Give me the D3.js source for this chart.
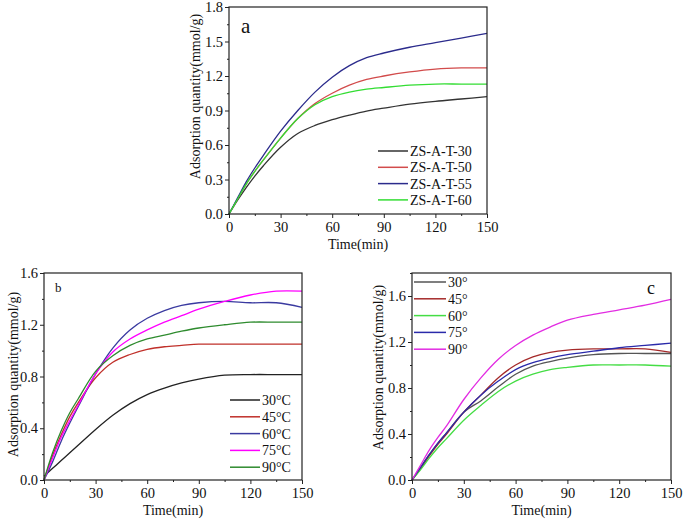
<!DOCTYPE html>
<html>
<head>
<meta charset="utf-8">
<script src="https://cdn.jsdelivr.net/npm/d3@7"></script>
<style>
  body { margin: 0; background: #fff; }
  svg { display: block; font-family: "Liberation Serif", "Times New Roman", serif; }
</style>
</head>
<body>
<svg id="chart" width="685" height="521"></svg>
<script>
// sampling times (min), shared by every series
const times = [0, 5, 10, 15, 20, 30, 40, 50, 60, 70, 80, 90, 105, 120, 135, 150];

// panel a
const namesA = ['ZS-A-T-30', 'ZS-A-T-50', 'ZS-A-T-55', 'ZS-A-T-60'];
const a30 = [0, 0.12, 0.23, 0.33, 0.42, 0.58, 0.70, 0.77, 0.82, 0.86, 0.895, 0.92, 0.955, 0.98, 1.00, 1.02];
const a50 = [0, 0.13, 0.26, 0.37, 0.47, 0.66, 0.83, 0.96, 1.05, 1.12, 1.17, 1.20, 1.235, 1.26, 1.27, 1.27];
const a55 = [0, 0.14, 0.28, 0.40, 0.51, 0.72, 0.90, 1.06, 1.19, 1.29, 1.36, 1.40, 1.45, 1.49, 1.53, 1.57];
const a60 = [0, 0.13, 0.26, 0.37, 0.47, 0.66, 0.83, 0.95, 1.02, 1.06, 1.085, 1.10, 1.12, 1.13, 1.13, 1.13];

// panel b
const namesB = ['30°C', '45°C', '60°C', '75°C', '90°C'];
const b30 = [0.03, 0.09, 0.15, 0.21, 0.27, 0.39, 0.50, 0.59, 0.66, 0.71, 0.75, 0.78, 0.81, 0.815, 0.815, 0.815];
const b45 = [0, 0.19, 0.35, 0.49, 0.60, 0.79, 0.91, 0.97, 1.01, 1.03, 1.04, 1.05, 1.05, 1.05, 1.05, 1.05];
const b60 = [0, 0.14, 0.30, 0.44, 0.57, 0.82, 1.02, 1.16, 1.25, 1.31, 1.35, 1.37, 1.38, 1.37, 1.37, 1.335];
const b75 = [0, 0.17, 0.33, 0.46, 0.58, 0.82, 0.99, 1.09, 1.16, 1.22, 1.27, 1.32, 1.38, 1.43, 1.46, 1.46];
const b90 = [0, 0.21, 0.38, 0.52, 0.63, 0.84, 0.96, 1.04, 1.09, 1.12, 1.15, 1.175, 1.20, 1.22, 1.22, 1.22];

// panel c
const namesC = ['30°', '45°', '60°', '75°', '90°'];
const c30 = [0, 0.11, 0.22, 0.32, 0.41, 0.59, 0.69, 0.81, 0.92, 0.99, 1.03, 1.06, 1.09, 1.10, 1.10, 1.10];
const c45 = [0, 0.10, 0.21, 0.31, 0.40, 0.59, 0.74, 0.89, 1.00, 1.07, 1.11, 1.13, 1.14, 1.14, 1.14, 1.11];
const c60 = [0, 0.09, 0.19, 0.28, 0.36, 0.52, 0.65, 0.77, 0.86, 0.92, 0.96, 0.98, 1.00, 1.00, 1.00, 0.99];
const c75 = [0, 0.11, 0.22, 0.32, 0.41, 0.59, 0.74, 0.86, 0.96, 1.02, 1.06, 1.09, 1.12, 1.15, 1.17, 1.19];
const c90 = [0, 0.13, 0.26, 0.37, 0.47, 0.70, 0.89, 1.05, 1.17, 1.26, 1.33, 1.39, 1.44, 1.48, 1.52, 1.57];

const xTicks = [0, 30, 60, 90, 120, 150];
const yTicksA = [0, 0.3, 0.6, 0.9, 1.2, 1.5, 1.8];
const yTicksBC = [0, 0.4, 0.8, 1.2, 1.6];

const svg = d3.select('#chart');

function drawPanel(p) {
  const x = d3.scaleLinear().domain([0, 150]).range([p.left, p.right]);
  const y = d3.scaleLinear().domain([0, p.yMax]).range([p.bottom, p.top]);
  const g = svg.append('g');

  // curves
  const line = d3.line()
    .x((d, i) => x(times[i]))
    .y(d => y(d))
    .curve(d3.curveCatmullRom.alpha(0.5));

  p.series.forEach((s, i) => {
    g.append('path')
      .attr('d', line(s))
      .attr('fill', 'none')
      .attr('stroke', p.colors[i])
      .attr('stroke-width', 1.3);
  });

  // minor ticks
  const xMinor = d3.range(15, 150, 30);
  const yMinor = p.yTicks.slice(0, -1).map((t, i) => (t + p.yTicks[i + 1]) / 2);
  if (p.yTicks[p.yTicks.length - 1] < p.yMax) yMinor.push(p.yTicks[p.yTicks.length - 1] + p.yStep / 2);

  g.append('g')
    .attr('transform', `translate(0,${p.bottom})`)
    .call(d3.axisBottom(x).tickValues(xMinor).tickSize(2).tickFormat(''))
    .call(a => a.select('.domain').remove());
  g.append('g')
    .attr('transform', `translate(${p.left},0)`)
    .call(d3.axisLeft(y).tickValues(yMinor).tickSize(2).tickFormat(''))
    .call(a => a.select('.domain').remove());

  // major axes
  const xAxisG = g.append('g')
    .attr('transform', `translate(0,${p.bottom})`)
    .call(d3.axisBottom(x).tickValues(xTicks).tickSize(4).tickPadding(4).tickFormat(d3.format('d')));
  xAxisG.select('.domain').remove();

  const yAxisG = g.append('g')
    .attr('transform', `translate(${p.left},0)`)
    .call(d3.axisLeft(y).tickValues(p.yTicks).tickSize(4).tickPadding(2).tickFormat(d3.format('.1f')));
  yAxisG.select('.domain').remove();

  g.selectAll('.tick line').attr('stroke', '#222').attr('stroke-width', 1);
  g.selectAll('.tick text')
    .attr('fill', '#111')
    .style('font-family', '"Liberation Serif", serif')
    .style('font-size', '14.5px');

  // frame
  g.append('rect')
    .attr('x', p.left)
    .attr('y', p.top)
    .attr('width', p.right - p.left)
    .attr('height', p.bottom - p.top)
    .attr('fill', 'none')
    .attr('stroke', '#222')
    .attr('stroke-width', 1.2);

  // axis titles
  g.append('text')
    .attr('x', (p.left + p.right) / 2)
    .attr('y', p.bottom + 35)
    .attr('text-anchor', 'middle')
    .style('font-size', '14px')
    .attr('fill', '#111')
    .text('Time(min)');

  g.append('text')
    .attr('transform', `translate(${p.left - p.yTitleGap},${(p.top + p.bottom) / 2 + p.yTitleShift}) rotate(-90)`)
    .attr('text-anchor', 'middle')
    .attr('dy', '0.35em')
    .style('font-size', '14px')
    .attr('fill', '#111')
    .text('Adsorption quantity(mmol/g)');

  // panel letter
  g.append('text')
    .attr('x', p.label.x)
    .attr('y', p.label.y)
    .style('font-size', p.label.size + 'px')
    .attr('fill', '#111')
    .text(p.label.text);

  // legend
  const leg = g.append('g');
  p.names.forEach((n, i) => {
    const ly = p.legend.y + i * p.legend.step;
    leg.append('line')
      .attr('x1', p.legend.x)
      .attr('x2', p.legend.x + p.legend.len)
      .attr('y1', ly)
      .attr('y2', ly)
      .attr('stroke', p.colors[i])
      .attr('stroke-width', 1.5);
    leg.append('text')
      .attr('x', p.legend.x + p.legend.len + 2)
      .attr('y', ly)
      .attr('dy', '0.35em')
      .style('font-size', '14px')
      .attr('fill', '#111')
      .text(n);
  });
}

drawPanel({
  left: 229, right: 487, top: 7, bottom: 214,
  yMax: 1.8, yTicks: yTicksA, yStep: 0.3,
  series: [a30, a50, a55, a60],
  names: namesA,
  colors: ['#333333', '#d24b4b', '#2b2b8c', '#33dd33'],
  yTitleGap: 34, yTitleShift: -14,
  label: {text: 'a', x: 241, y: 33, size: 21},
  legend: {x: 378, y: 151, step: 16.3, len: 30}
});

drawPanel({
  left: 44, right: 302, top: 273, bottom: 480,
  yMax: 1.6, yTicks: yTicksBC, yStep: 0.4,
  series: [b30, b45, b60, b75, b90],
  names: namesB,
  colors: ['#222222', '#c0302a', '#3a3aa0', '#ff00ff', '#2e8b2e'],
  yTitleGap: 31, yTitleShift: -2,
  label: {text: 'b', x: 55, y: 292, size: 13},
  legend: {x: 230, y: 400, step: 16.8, len: 30}
});

drawPanel({
  left: 412, right: 671, top: 273, bottom: 480,
  yMax: 1.8, yTicks: yTicksBC, yStep: 0.4,
  series: [c30, c45, c60, c75, c90],
  names: namesC,
  colors: ['#555555', '#a52a2a', '#44dd44', '#2a2aaa', '#e22ce2'],
  yTitleGap: 34, yTitleShift: -9,
  label: {text: 'c', x: 647, y: 294, size: 18},
  legend: {x: 414, y: 282, step: 16.8, len: 32}
});
</script>
</body>
</html>
